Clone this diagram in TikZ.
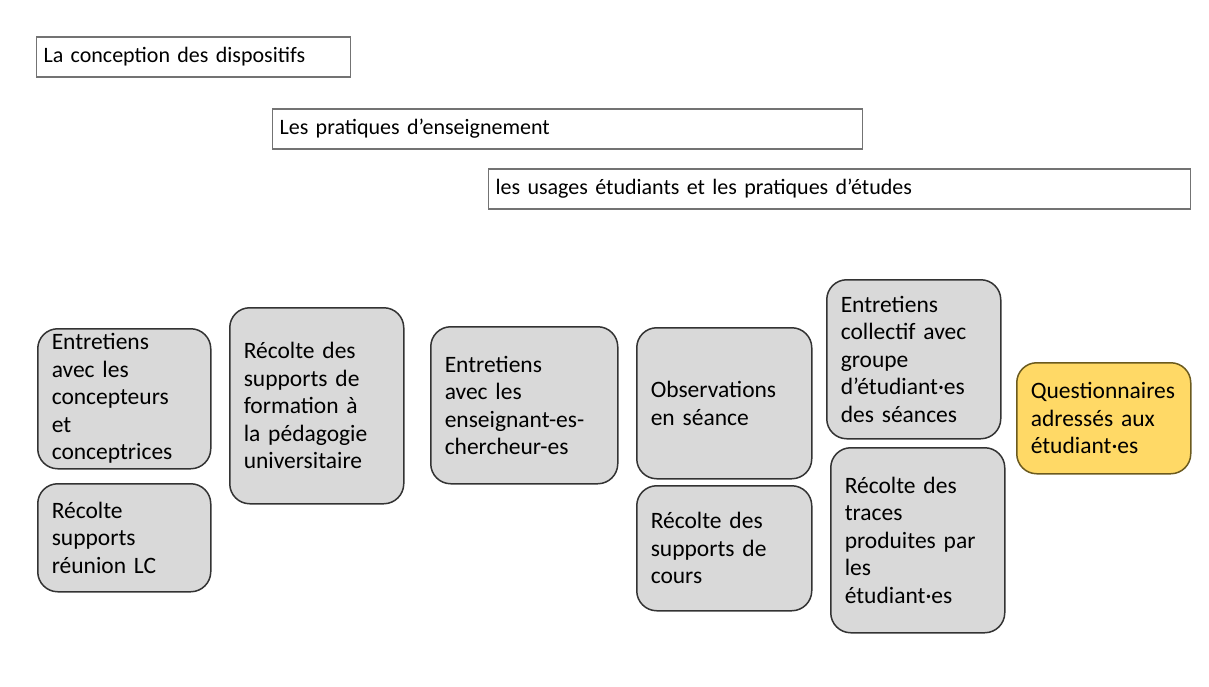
\documentclass[tikz,border=0pt]{standalone}
\usepackage{fontspec}
\setmainfont{Carlito}
\usetikzlibrary{positioning}
\definecolor{boxgray}{HTML}{D9D9D9}
\definecolor{questyellow}{HTML}{FFD966}
\definecolor{questbrown}{HTML}{6B5A1E}

\begin{document}
\begin{tikzpicture}[x=1pt,y=-1pt,
    bar/.style={draw=black!55, line width=1.2pt, fill=white, anchor=west,
      minimum height=40pt, inner xsep=7pt, align=left,
      font=\fontsize{22}{25}\selectfont},
    src/.style={draw=black!80, line width=1.5pt, rounded corners=20pt,
      fill=boxgray, anchor=north west, align=left, inner xsep=14pt,
      font=\fontsize{23.5}{27.5}\selectfont},
    quest/.style={src, fill=questyellow, draw=questbrown}]
    \useasboundingbox (0,0) rectangle (1209,686);

    % dimensions etudiees
    \node[bar, text width=300pt] (concept) at (36,57) {La conception des dispositifs};
    \node[bar, text width=576pt] (pratiques) at (272,129) {Les pratiques d’enseignement};
    \node[bar, text width=688pt] (usages) at (488,189) {les usages étudiants et les pratiques d’études};

    % recueil de donnees
    \node[src, text width=145pt, minimum width=173pt, minimum height=140pt] (entConc) at (37,328)
      {Entretiens\\avec les\\concepteurs\\et\\conceptrices};
    \node[src, text width=145pt, minimum width=173pt, minimum height=108pt] (recLC) at (37,483)
      {Récolte\\supports\\réunion LC};
    \node[src, text width=146pt, minimum width=174pt, minimum height=196pt] (recForm) at (229,307)
      {Récolte des\\supports de\\formation à\\la pédagogie\\universitaire};
    \node[src, text width=159pt, minimum width=187pt, minimum height=157pt] (entEns) at (430,326)
      {Entretiens\\avec les\\enseignant-es-\\chercheur-es};
    \node[src, text width=147pt, minimum width=175pt, minimum height=151pt] (obs) at (636,327)
      {Observations\\en séance};
    \node[src, text width=147pt, minimum width=175pt, minimum height=125pt] (recCours) at (636,485)
      {Récolte des\\supports de\\cours};
    \node[src, text width=146pt, minimum width=174pt, minimum height=159pt] (entColl) at (826,279)
      {Entretiens\\collectif avec\\groupe\\d’étudiant·es\\des séances};
    \node[src, text width=146pt, minimum width=174pt, minimum height=185pt] (recTraces) at (830,447)
      {Récolte des\\traces\\produites par\\les\\étudiant·es};
    \node[quest, text width=146pt, minimum width=174pt, minimum height=111pt] (quest) at (1016,362)
      {Questionnaires\\adressés aux\\étudiant·es};
\end{tikzpicture}
\end{document}
